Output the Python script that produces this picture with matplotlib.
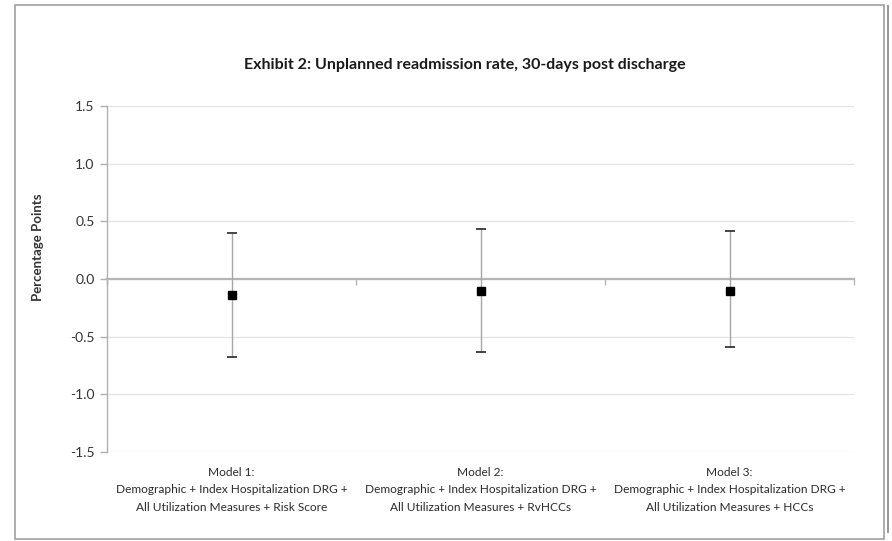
import numpy as np
import matplotlib
matplotlib.use("Agg")
import matplotlib.pyplot as plt
from matplotlib import font_manager
from matplotlib.patches import Rectangle
import matplotlib.transforms as mtransforms

# pick a font close to Calibri if one is installed
names = {f.name for f in font_manager.fontManager.ttflist}
fam = [n for n in ["Lato", "Open Sans", "DejaVu Sans"] if n in names]
plt.rcParams["font.family"] = fam

# ── data ──────────────────────────────────────────────────────────────
categories = [
    "Model 1:\nDemographic + Index Hospitalization DRG +\nAll Utilization Measures + Risk Score",
    "Model 2:\nDemographic + Index Hospitalization DRG +\nAll Utilization Measures + RvHCCs",
    "Model 3:\nDemographic + Index Hospitalization DRG +\nAll Utilization Measures + HCCs",
]
estimate = [-0.14, -0.10, -0.10]
ci_low = [-0.68, -0.63, -0.59]
ci_high = [0.40, 0.43, 0.42]
yticks = [-1.5, -1.0, -0.5, 0.0, 0.5, 1.0, 1.5]

# ── figure ────────────────────────────────────────────────────────────
W, H = 892, 541
fig = plt.figure(figsize=(W / 100, H / 100), dpi=100)
ax = fig.add_axes([107 / W, 1 - 452 / H, (854 - 107) / W, (452 - 106) / H])

x = np.arange(len(categories))
est = np.array(estimate)
err = np.vstack([est - np.array(ci_low), np.array(ci_high) - est])

ax.errorbar(x, est, yerr=err, fmt="none", ecolor="#a6a6a6", elinewidth=1.0,
            capsize=0, zorder=3)
# darker caps
ax.errorbar(x, ci_low, fmt="_", color="#262626", ms=7, mew=1.2, zorder=4)
ax.errorbar(x, ci_high, fmt="_", color="#262626", ms=7, mew=1.2, zorder=4)
ax.plot(x, est, "s", color="black", ms=6, zorder=5)

ax.set_xlim(-0.5, len(categories) - 0.5)
ax.set_ylim(yticks[0], yticks[-1])
ax.set_yticks(yticks)
ax.set_yticklabels([f"{v:.1f}" for v in yticks])
ax.yaxis.grid(True, color="#e3e3e3", lw=0.9)
ax.set_axisbelow(True)

for s in ["top", "right"]:
    ax.spines[s].set_visible(False)
ax.spines["left"].set_color("#b0b0b0")
ax.spines["left"].set_linewidth(1.0)
ax.spines["bottom"].set_position(("data", 0))
ax.spines["bottom"].set_color("#b5b5b5")
ax.spines["bottom"].set_linewidth(1.6)
ax.spines["bottom"].set_zorder(2)

ax.set_xticks(np.arange(len(categories) + 1) - 0.5)
ax.set_xticklabels([])
ax.tick_params(axis="x", direction="out", length=4, color="#b5b5b5", width=1)
ax.tick_params(axis="y", direction="out", length=5, color="#b0b0b0", width=1,
               labelsize=10, labelcolor="#333333", pad=4)

trans = mtransforms.blended_transform_factory(ax.transData, fig.transFigure)
for i, lab in enumerate(categories):
    ax.text(x[i], 1 - 467 / H, lab, transform=trans, ha="center", va="top",
            fontsize=8.6, color="#2b2b2b", linespacing=1.7)

fig.text(38 / W, 1 - 247 / H, "Percentage Points", rotation=90, ha="center",
         va="center", fontsize=9.5, fontweight="bold", color="#333333")
fig.text(465 / W, 1 - 65 / H, "Exhibit 2: Unplanned readmission rate, 30-days post discharge",
         ha="center", va="center", fontsize=11.5, fontweight="bold", color="#1a1a1a")

# chart frame with light shadow on the right
fig.patches.append(Rectangle((887 / W, 8 / H), 2 / W, (536 - 8) / H,
                             transform=fig.transFigure, facecolor="#9a9a9a",
                             edgecolor="none"))
fig.patches.append(Rectangle((15 / W, 2 / H), (884 - 15) / W, (536 - 2) / H,
                             transform=fig.transFigure, facecolor="none",
                             edgecolor="#a0a0a0", lw=1.2))

fig.savefig("out.png", dpi=100)
